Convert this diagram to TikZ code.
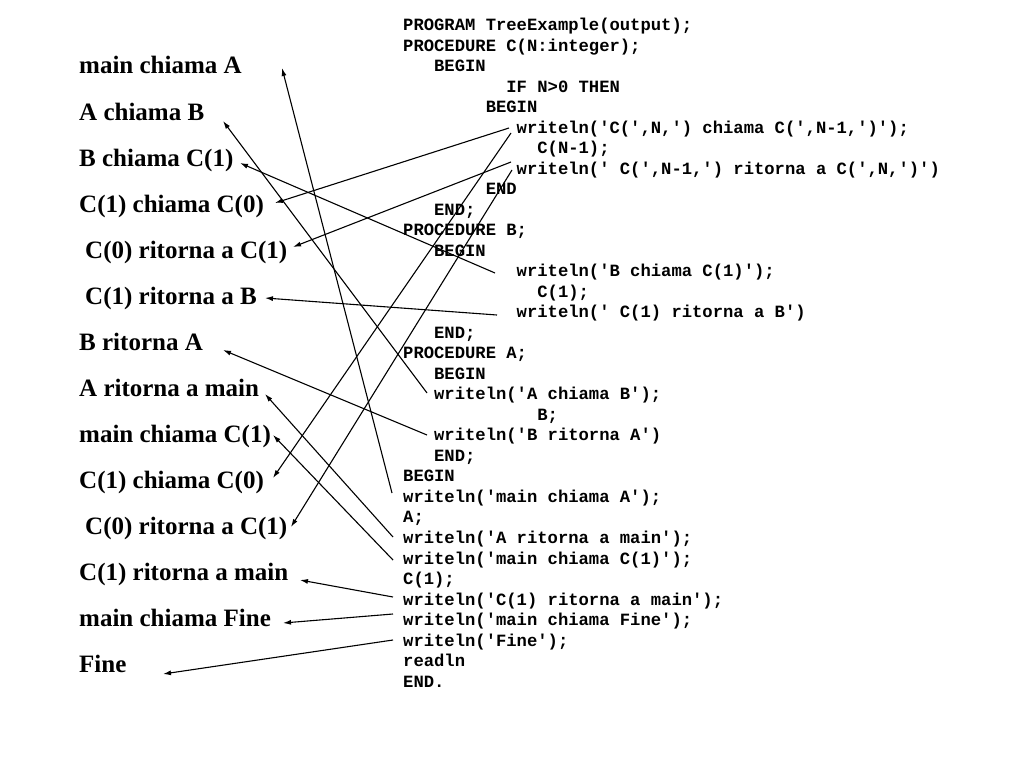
\documentclass[tikz,border=0pt]{standalone}
\usepackage{fontspec}
\setmainfont{Liberation Serif}
\setmonofont{Liberation Mono}
\usetikzlibrary{arrows.meta}
\begin{document}
\begin{tikzpicture}[x=1pt,y=-1pt,
  lab/.style={anchor=base west,inner sep=0pt,font=\fontsize{25}{30}\selectfont\bfseries},
  code/.style={anchor=base west,inner sep=0pt,font=\fontsize{17.2}{20}\selectfont\ttfamily\bfseries},
  arr/.style={line width=1.1pt,-{Latex[length=8pt,width=5pt]}}]
\useasboundingbox (0,0) rectangle (1024,768);
% left labels
\node[lab] (l1)  at (79,74)  {main chiama A};
\node[lab] (l2)  at (79,120) {A chiama B};
\node[lab] (l3)  at (79,166) {B chiama C(1)};
\node[lab] (l4)  at (79,212) {C(1) chiama C(0)};
\node[lab] (l5)  at (85,258) {C(0) ritorna a C(1)};
\node[lab] (l6)  at (85,304) {C(1) ritorna a B};
\node[lab] (l7)  at (79,350) {B ritorna A};
\node[lab] (l8)  at (79,396) {A ritorna a main};
\node[lab] (l9)  at (79,442) {main chiama C(1)};
\node[lab] (l10) at (79,488) {C(1) chiama C(0)};
\node[lab] (l11) at (85,534) {C(0) ritorna a C(1)};
\node[lab] (l12) at (79,580) {C(1) ritorna a main};
\node[lab] (l13) at (79,626) {main chiama Fine};
\node[lab] (l14) at (79,672) {Fine};
% code lines
\def\cx#1{403+#1*10.32}
\def\cy#1{30.5+#1*20.52}
\node[code] (c0)  at ({\cx{0}},{\cy{0}})  {PROGRAM TreeExample(output);};
\node[code] (c1)  at ({\cx{0}},{\cy{1}})  {PROCEDURE C(N:integer);};
\node[code] (c2)  at ({\cx{3}},{\cy{2}})  {BEGIN};
\node[code] (c3)  at ({\cx{10}},{\cy{3}}) {IF N>0 THEN};
\node[code] (c4)  at ({\cx{8}},{\cy{4}})  {BEGIN};
\node[code] (c5)  at ({\cx{11}},{\cy{5}}) {writeln('C(',N,') chiama C(',N-1,')');};
\node[code] (c6)  at ({\cx{13}},{\cy{6}}) {C(N-1);};
\node[code] (c7)  at ({\cx{11}},{\cy{7}}) {writeln(' C(',N-1,') ritorna a C(',N,')')};
\node[code] (c8)  at ({\cx{8}},{\cy{8}})  {END};
\node[code] (c9)  at ({\cx{3}},{\cy{9}})  {END;};
\node[code] (c10) at ({\cx{0}},{\cy{10}}) {PROCEDURE B;};
\node[code] (c11) at ({\cx{3}},{\cy{11}}) {BEGIN};
\node[code] (c12) at ({\cx{11}},{\cy{12}}) {writeln('B chiama C(1)');};
\node[code] (c13) at ({\cx{13}},{\cy{13}}) {C(1);};
\node[code] (c14) at ({\cx{11}},{\cy{14}}) {writeln(' C(1) ritorna a B')};
\node[code] (c15) at ({\cx{3}},{\cy{15}}) {END;};
\node[code] (c16) at ({\cx{0}},{\cy{16}}) {PROCEDURE A;};
\node[code] (c17) at ({\cx{3}},{\cy{17}}) {BEGIN};
\node[code] (c18) at ({\cx{3}},{\cy{18}}) {writeln('A chiama B');};
\node[code] (c19) at ({\cx{13}},{\cy{19}}) {B;};
\node[code] (c20) at ({\cx{3}},{\cy{20}}) {writeln('B ritorna A')};
\node[code] (c21) at ({\cx{3}},{\cy{21}}) {END;};
\node[code] (c22) at ({\cx{0}},{\cy{22}}) {BEGIN};
\node[code] (c23) at ({\cx{0}},{\cy{23}}) {writeln('main chiama A');};
\node[code] (c24) at ({\cx{0}},{\cy{24}}) {A;};
\node[code] (c25) at ({\cx{0}},{\cy{25}}) {writeln('A ritorna a main');};
\node[code] (c26) at ({\cx{0}},{\cy{26}}) {writeln('main chiama C(1)');};
\node[code] (c27) at ({\cx{0}},{\cy{27}}) {C(1);};
\node[code] (c28) at ({\cx{0}},{\cy{28}}) {writeln('C(1) ritorna a main');};
\node[code] (c29) at ({\cx{0}},{\cy{29}}) {writeln('main chiama Fine');};
\node[code] (c30) at ({\cx{0}},{\cy{30}}) {writeln('Fine');};
\node[code] (c31) at ({\cx{0}},{\cy{31}}) {readln};
\node[code] (c32) at ({\cx{0}},{\cy{32}}) {END.};
% arrow ends
\coordinate (s1) at (392,493);  \coordinate (e1) at (282,68);
\coordinate (s2) at (427,393);  \coordinate (e2) at (223,121);
\coordinate (s3) at (495,273);  \coordinate (e3) at (240,163);
\coordinate (s4) at (509,128);  \coordinate (e4) at (275,203);
\coordinate (s5) at (511,162);  \coordinate (e5) at (293,247);
\coordinate (s6) at (497,315);  \coordinate (e6) at (265,298);
\coordinate (s7) at (427,435);  \coordinate (e7) at (223,350);
\coordinate (s8) at (393,537);  \coordinate (e8) at (265,394);
\coordinate (s9) at (393,560);  \coordinate (e9) at (273,435);
\coordinate (s10) at (511,133); \coordinate (e10) at (273,478);
\coordinate (s11) at (512,170); \coordinate (e11) at (291,527);
\coordinate (s12) at (393,597); \coordinate (e12) at (300,580);
\coordinate (s13) at (393,614); \coordinate (e13) at (283,623);
\coordinate (s14) at (393,640); \coordinate (e14) at (163,674);
\foreach \i in {1,...,14} {\draw[arr] (s\i) -- (e\i);}
\end{tikzpicture}
\end{document}
